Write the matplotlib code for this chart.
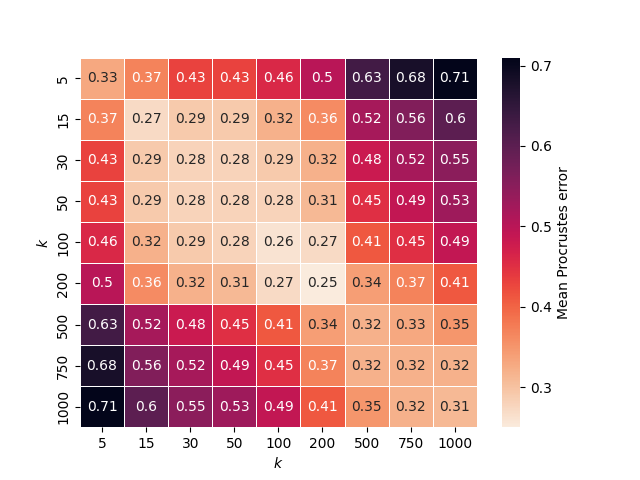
import numpy as np
import matplotlib
matplotlib.use("Agg")
import matplotlib.pyplot as plt
import seaborn as sns

k_values = [5, 15, 30, 50, 100, 200, 500, 750, 1000]

# mean Procrustes error, rows = k (y), cols = k (x)
row_5 = [0.33, 0.37, 0.43, 0.43, 0.46, 0.50, 0.63, 0.68, 0.71]
row_15 = [0.37, 0.27, 0.29, 0.29, 0.32, 0.36, 0.52, 0.56, 0.60]
row_30 = [0.43, 0.29, 0.28, 0.28, 0.29, 0.32, 0.48, 0.52, 0.55]
row_50 = [0.43, 0.29, 0.28, 0.28, 0.28, 0.31, 0.45, 0.49, 0.53]
row_100 = [0.46, 0.32, 0.29, 0.28, 0.26, 0.27, 0.41, 0.45, 0.49]
row_200 = [0.50, 0.36, 0.32, 0.31, 0.27, 0.25, 0.34, 0.37, 0.41]
row_500 = [0.63, 0.52, 0.48, 0.45, 0.41, 0.34, 0.32, 0.33, 0.35]
row_750 = [0.68, 0.56, 0.52, 0.49, 0.45, 0.37, 0.32, 0.32, 0.32]
row_1000 = [0.71, 0.60, 0.55, 0.53, 0.49, 0.41, 0.35, 0.32, 0.31]

errors = np.array([row_5, row_15, row_30, row_50, row_100,
                   row_200, row_500, row_750, row_1000])

fig, ax = plt.subplots(figsize=(6.4, 4.8), dpi=100)
sns.heatmap(errors, annot=True, fmt=".2g", cmap="rocket_r",
            linewidths=0.5, linecolor="white",
            xticklabels=k_values, yticklabels=k_values,
            cbar_kws={"label": "Mean Procrustes error"}, ax=ax)
ax.set_xlabel("$k$")
ax.set_ylabel("$k$")
plt.setp(ax.get_yticklabels(), rotation=90, va="center")
plt.setp(ax.get_xticklabels(), rotation=0)

fig.savefig("out.png", dpi=100)
